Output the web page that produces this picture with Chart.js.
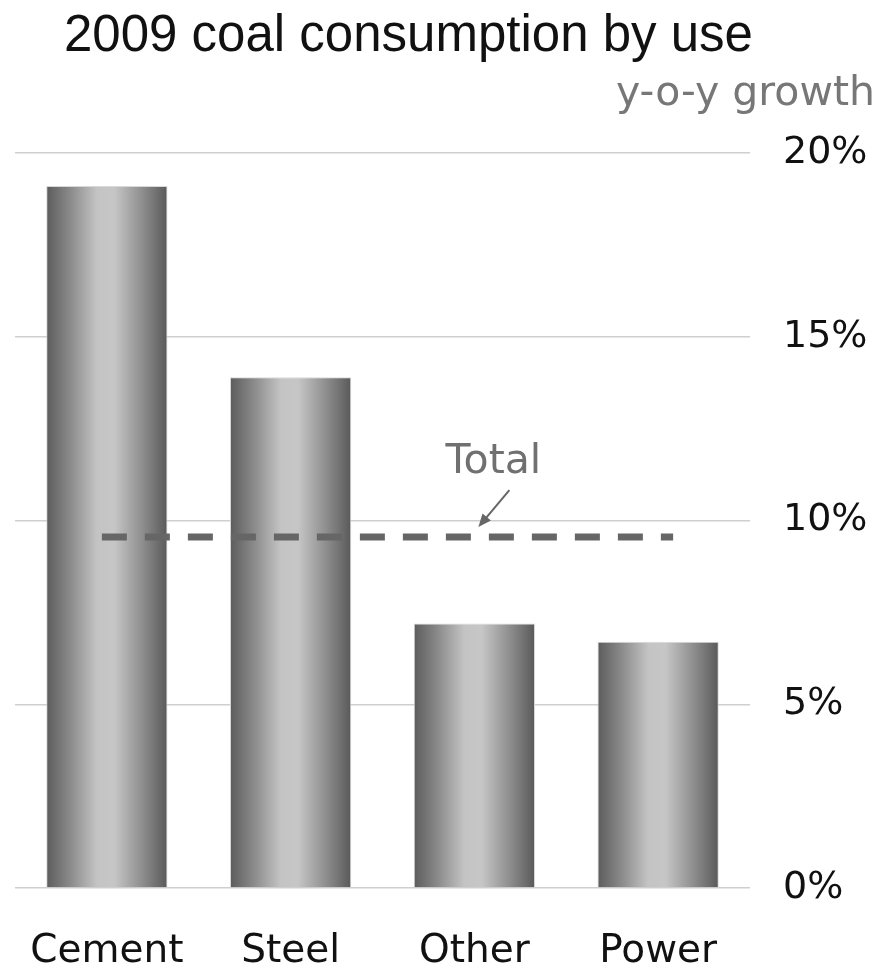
<!DOCTYPE html>
<html>
<head>
<meta charset="utf-8">
<script src="https://cdn.jsdelivr.net/npm/chart.js@4/dist/chart.umd.min.js"></script>
<style>
  html, body { margin: 0; padding: 0; background: #ffffff; }
  #wrap { width: 892px; height: 970px; }
</style>
</head>
<body>
<div id="wrap"><canvas id="c" width="892" height="970"></canvas></div>
<script>
// 2009 coal consumption, year-on-year growth by end use
const categories = ['Cement', 'Steel', 'Other', 'Power'];
const growth = [19.1, 13.9, 7.2, 6.7];
const totalGrowth = 9.55;
const yTickValues = [0, 5, 10, 15, 20];

const titleText = '2009 coal consumption by use';
const unitText = 'y-o-y growth';
const totalLabel = 'Total';

const BAR_FRACTION = 0.66;

// Horizontal metallic shading for each bar
function barGradient(ctx) {
  const chart = ctx.chart;
  const area = chart.chartArea;
  const xs = chart.scales.x;
  if (!area || !xs) return '#999999';
  const cx = xs.getPixelForValue(ctx.dataIndex);
  const half = (area.width / categories.length) * BAR_FRACTION / 2;
  const g = chart.ctx.createLinearGradient(cx - half, 0, cx + half, 0);
  g.addColorStop(0.00, '#5c5c5c');
  g.addColorStop(0.18, '#868686');
  g.addColorStop(0.42, '#c4c4c4');
  g.addColorStop(0.56, '#c6c6c6');
  g.addColorStop(0.80, '#8c8c8c');
  g.addColorStop(1.00, '#595959');
  return g;
}

// Title, unit label, total reference line and its callout
const decorations = {
  id: 'decorations',
  afterDraw(chart) {
    const { ctx } = chart;
    ctx.save();
    ctx.fillStyle = '#111111';
    ctx.font = '51px "Liberation Sans", Arial, sans-serif';
    ctx.textAlign = 'left';
    ctx.textBaseline = 'alphabetic';
    ctx.fillText(titleText, 64, 51);

    ctx.fillStyle = '#777777';
    ctx.font = '41px "DejaVu Sans", sans-serif';
    ctx.textAlign = 'right';
    ctx.fillText(unitText, 875, 105);
    ctx.restore();
  },
  afterDatasetsDraw(chart) {
    const { ctx } = chart;
    const xs = chart.scales.x, ys = chart.scales.y;
    const y = ys.getPixelForValue(totalGrowth);
    const x0 = xs.getPixelForValue(0) - 5;
    const x1 = xs.getPixelForValue(categories.length - 1) + 15;

    ctx.save();
    ctx.strokeStyle = '#666666';
    ctx.lineWidth = 7;
    ctx.setLineDash([25, 18]);
    ctx.beginPath();
    ctx.moveTo(x0, y);
    ctx.lineTo(x1, y);
    ctx.stroke();
    ctx.setLineDash([]);

    // callout text and arrow above the line
    const ox = xs.getPixelForValue(2);
    ctx.fillStyle = '#707070';
    ctx.font = '41px "DejaVu Sans", sans-serif';
    ctx.textAlign = 'center';
    ctx.textBaseline = 'alphabetic';
    ctx.fillText(totalLabel, ox + 19, y - 64);

    const tx = ox + 35, ty = y - 47;
    const hx = ox + 4, hy = y - 10;
    const ang = Math.atan2(hy - ty, hx - tx);
    const L = 13, W = 5.5;
    ctx.strokeStyle = '#666666';
    ctx.fillStyle = '#666666';
    ctx.lineWidth = 2;
    ctx.beginPath();
    ctx.moveTo(tx, ty);
    ctx.lineTo(hx - Math.cos(ang) * L * 0.8, hy - Math.sin(ang) * L * 0.8);
    ctx.stroke();
    ctx.beginPath();
    ctx.moveTo(hx, hy);
    ctx.lineTo(hx - Math.cos(ang) * L - Math.sin(ang) * W, hy - Math.sin(ang) * L + Math.cos(ang) * W);
    ctx.lineTo(hx - Math.cos(ang) * L + Math.sin(ang) * W, hy - Math.sin(ang) * L - Math.cos(ang) * W);
    ctx.closePath();
    ctx.fill();
    ctx.restore();
  }
};

new Chart(document.getElementById('c'), {
  type: 'bar',
  data: {
    labels: categories,
    datasets: [{
      data: growth,
      backgroundColor: barGradient,
      borderColor: '#d8d8d8',
      borderWidth: 1,
      borderSkipped: 'bottom',
      categoryPercentage: 1,
      barPercentage: BAR_FRACTION
    }]
  },
  options: {
    responsive: false,
    animation: false,
    devicePixelRatio: 1,
    layout: { padding: { top: 153, left: 15, right: 0, bottom: 0 } },
    plugins: {
      legend: { display: false },
      tooltip: { enabled: false },
      title: { display: false }
    },
    scales: {
      x: {
        grid: { display: false, drawTicks: true, tickLength: 35 },
        border: { display: false },
        ticks: {
          color: '#111111',
          padding: 5,
          maxRotation: 0,
          font: { family: '"DejaVu Sans", sans-serif', size: 39 }
        },
        afterFit(scale) { scale.height = 82; }
      },
      y: {
        position: 'right',
        min: 0,
        max: 20,
        afterBuildTicks(scale) { scale.ticks = yTickValues.map(v => ({ value: v })); },
        grid: { color: '#cfcfcf', lineWidth: 1.5, drawTicks: false },
        border: { display: false },
        ticks: {
          color: '#111111',
          padding: 33,
          font: { family: '"DejaVu Sans", sans-serif', size: 38 },
          callback: v => v + '%'
        },
        afterFit(scale) { scale.width = 142; }
      }
    }
  },
  plugins: [decorations]
});
</script>
</body>
</html>
